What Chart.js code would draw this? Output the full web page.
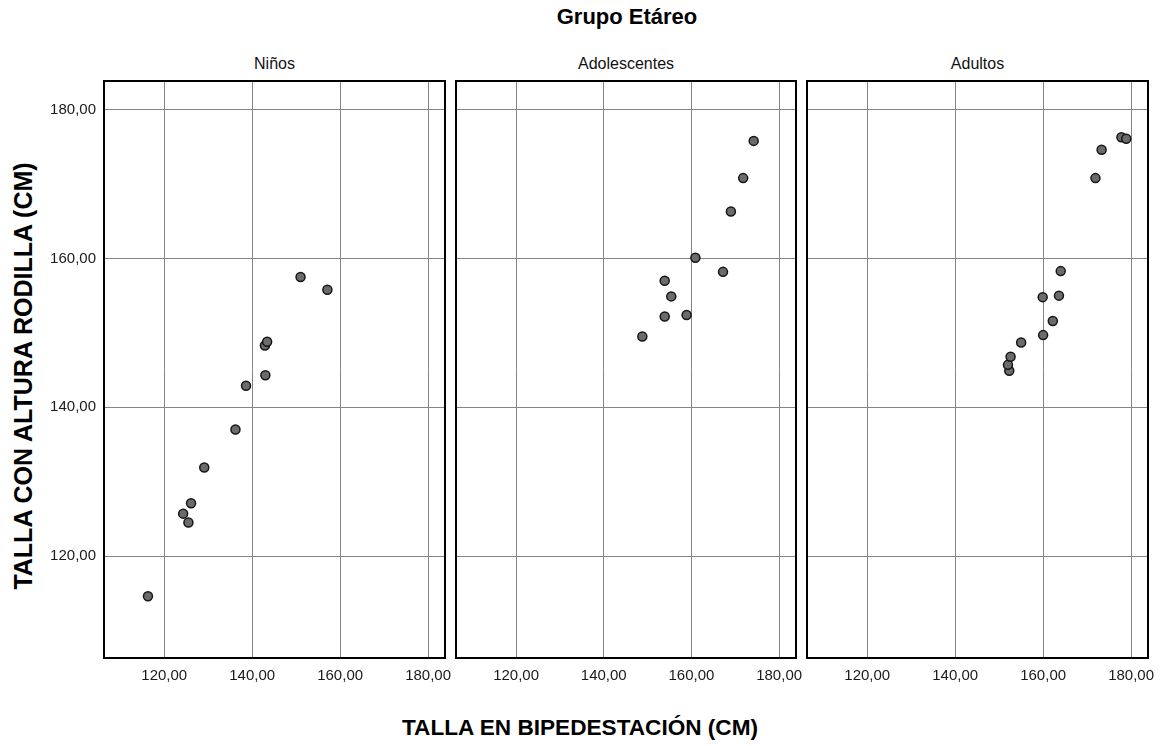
<!DOCTYPE html>
<html>
<head>
<meta charset="utf-8">
<script src="https://cdn.jsdelivr.net/npm/chart.js@4.4.1/dist/chart.umd.min.js"></script>
<style>
  body { margin: 0; background: #fff; width: 1161px; height: 746px; position: relative; overflow: hidden;
         font-family: "Liberation Sans", Arial, sans-serif; color: #000; }
  canvas { position: absolute; top: 71px; }
  .t { position: absolute; white-space: nowrap; line-height: 1; transform: translate(-50%, -50%); }
  .panel { font-size: 16px; color: #111; }
</style>
</head>
<body>
<div class="t" style="left:627px;top:17px;font-weight:bold;font-size:22px;">Grupo Etáreo</div>
<div class="t panel" id="tit0" style="left:274.5px;top:64px;"></div>
<div class="t panel" id="tit1" style="left:626px;top:64px;"></div>
<div class="t panel" id="tit2" style="left:977.5px;top:64px;"></div>
<div class="t" style="left:22.5px;top:376px;font-weight:bold;font-size:25px;transform:translate(-50%,-50%) rotate(-90deg);">TALLA CON ALTURA RODILLA (CM)</div>
<div class="t" style="left:580px;top:728px;font-weight:bold;font-size:22.6px;">TALLA EN BIPEDESTACIÓN (CM)</div>

<canvas id="c0" width="456" height="629" style="left:0px"></canvas>
<canvas id="c1" width="362" height="629" style="left:445px"></canvas>
<canvas id="c2" width="365" height="629" style="left:796px"></canvas>

<script>
// grupos etáreos y mediciones (cm)
const grupos = ['Niños', 'Adolescentes', 'Adultos'];

const ninosBipedestacion = [116.3, 124.3, 125.5, 126.1, 129.1, 136.2, 138.6, 143.0, 142.9, 143.4, 151.0, 157.1];
const ninosRodilla       = [114.6, 125.7, 124.5, 127.1, 131.9, 137.0, 142.9, 144.3, 148.3, 148.8, 157.5, 155.8];

const adolBipedestacion = [148.8, 153.9, 158.9, 155.4, 153.9, 160.9, 167.2, 169.0, 171.8, 174.2];
const adolRodilla       = [149.5, 152.2, 152.4, 154.9, 157.0, 160.1, 158.2, 166.3, 170.8, 175.8];

const adultBipedestacion = [152.3, 152.0, 152.6, 155.0, 160.0, 162.2, 159.9, 163.6, 164.0, 171.9, 173.3, 177.8, 178.9];
const adultRodilla       = [144.9, 145.7, 146.8, 148.7, 149.7, 151.6, 154.8, 155.0, 158.3, 170.8, 174.6, 176.3, 176.1];

const tickValues = [120, 140, 160, 180];
const ejeMin = 106.3;
const ejeMax = 183.85;

const fmt = v => Number(v).toFixed(2).replace('.', ',');
const fuenteTicks = { family: '"Liberation Sans", Arial, sans-serif', size: 15 };

// marco negro alrededor de cada panel
const marco = {
  id: 'marco',
  afterDraw(chart) {
    const a = chart.chartArea, c = chart.ctx;
    c.save();
    c.strokeStyle = '#000';
    c.lineWidth = 2;
    c.strokeRect(a.left, a.top, a.right - a.left, a.bottom - a.top);
    c.restore();
  }
};

function eje(extra) {
  return Object.assign({
    type: 'linear',
    min: ejeMin,
    max: ejeMax,
    afterBuildTicks: s => { s.ticks = tickValues.map(v => ({ value: v })); },
    grid: { color: '#858585', lineWidth: 1, drawTicks: false },
    border: { display: false },
    ticks: { autoSkip: false, maxRotation: 0, color: '#1a1a1a', font: fuenteTicks, callback: v => fmt(v) }
  }, extra);
}

function crearPanel(idx, xs, ys, anchoY, padL, padR) {
  document.getElementById('tit' + idx).textContent = grupos[idx];
  const puntos = xs.map((x, i) => ({ x: x, y: ys[i] }));
  const conEtiquetasY = idx === 0;

  const ejeX = eje({ afterFit: s => { s.height = 42; s.paddingLeft = 0; s.paddingRight = 0; } });
  ejeX.ticks = Object.assign({}, ejeX.ticks, { padding: 9 });

  const ejeY = eje({ afterFit: s => { s.width = anchoY; s.paddingTop = 0; s.paddingBottom = 0; } });
  ejeY.ticks = Object.assign({}, ejeY.ticks, { padding: 8, display: conEtiquetasY });

  new Chart(document.getElementById('c' + idx), {
    type: 'scatter',
    data: {
      datasets: [{
        data: puntos,
        pointRadius: 4.5,
        pointHoverRadius: 4.5,
        backgroundColor: '#6b6b6b',
        borderColor: '#151515',
        borderWidth: 1.5
      }]
    },
    options: {
      responsive: false,
      animation: false,
      events: [],
      layout: { padding: { top: 10, left: padL, right: padR, bottom: 0 } },
      plugins: { legend: { display: false }, tooltip: { enabled: false } },
      scales: { x: ejeX, y: ejeY }
    },
    plugins: [marco]
  });
}

crearPanel(0, ninosBipedestacion, ninosRodilla, 104, 0, 11);
crearPanel(1, adolBipedestacion, adolRodilla, 0, 11, 11);
crearPanel(2, adultBipedestacion, adultRodilla, 0, 11, 13);
</script>
</body>
</html>
